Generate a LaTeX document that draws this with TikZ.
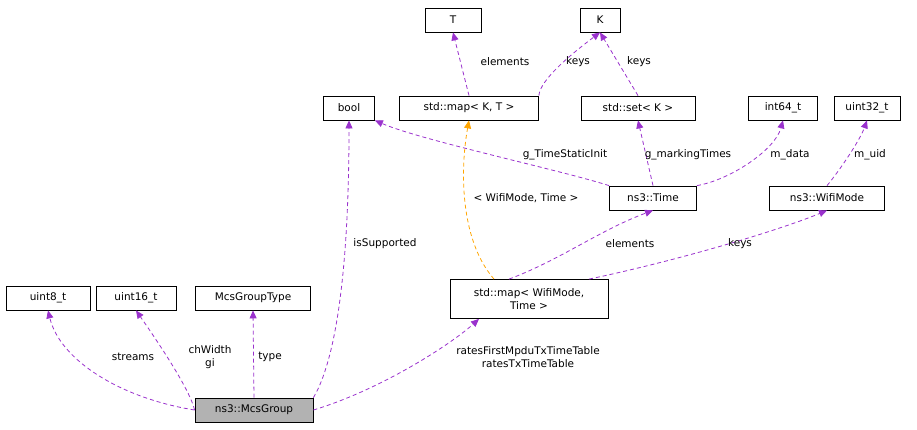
\documentclass[tikz,border=0pt]{standalone}
\usepackage{fontspec}
\setmainfont{DejaVu Sans}
\usetikzlibrary{arrows.meta}
\definecolor{ep}{HTML}{9A32CD}
\definecolor{eo}{HTML}{FFA500}
\begin{document}
\begin{tikzpicture}[x=1pt,y=-1pt,
 box/.style={draw,line width=0.8pt,inner sep=0pt,minimum height=24pt,font=\fontsize{10.5}{12.5}\selectfont,align=center},
 e/.style={draw=ep,line width=0.8pt,dash pattern=on 4pt off 3pt,-{Triangle[length=8pt,width=7pt,fill=ep]}},
 o/.style={e,draw=eo,-{Triangle[length=8pt,width=7pt,fill=eo]}},
 lbl/.style={font=\fontsize{10.5}{12.5}\selectfont,align=center,inner sep=1pt}]
\useasboundingbox (0,0) rectangle (917,429);
\node[box,fill=black!30,minimum width=118pt] (mcs) at (254,410) {ns3::McsGroup};
\node[box,minimum width=84pt] (u8) at (48,298) {uint8\_t};
\node[box,minimum width=80pt] (u16) at (136,298) {uint16\_t};
\node[box,minimum width=115pt] (mgt) at (253,298) {McsGroupType};
\node[box,minimum width=51pt] (bool) at (349,108) {bool};
\node[box,minimum width=158pt,minimum height=39pt] (mw) at (529,299) {std::map< WifiMode,\\Time >};
\node[box,minimum width=56pt] (T) at (453,20) {T};
\node[box,minimum width=40pt] (K) at (600,20) {K};
\node[box,minimum width=139pt] (mkt) at (469,108) {std::map< K, T >};
\node[box,minimum width=114pt] (set) at (638,108) {std::set< K >};
\node[box,minimum width=69pt] (i64) at (783,108) {int64\_t};
\node[box,minimum width=66pt] (u32) at (867,108) {uint32\_t};
\node[box,minimum width=87pt] (time) at (653,198) {ns3::Time};
\node[box,minimum width=115pt] (wm) at (827,198) {ns3::WifiMode};

\draw[e] (mcs.west) .. controls (120,398) and (60,360) .. (u8.south);
\draw[e] (mcs.west) .. controls (190,390) and (160,345) .. (u16.south);
\draw[e] (mcs.north) -- (mgt.south);
\draw[e] (mcs.north east) .. controls (330,370) and (349,300) .. (bool.south);
\draw[e] (mcs.east) .. controls (380,390) and (450,345) .. ([xshift=-50pt]mw.south);
\draw[e] (mkt.north) -- (T.south);
\draw[e] (mkt.north east) .. controls (540,80) and (570,55) .. (K.south);
\draw[e] (set.north) -- (K.south);
\draw[e] (time.north west) .. controls (560,170) and (420,140) .. (bool.south east);
\draw[e] (time.north) -- (set.south);
\draw[e] (time.north east) .. controls (730,180) and (775,150) .. (i64.south);
\draw[e] (wm.north) .. controls (840,170) and (860,140) .. (u32.south);
\draw[o] ([xshift=-35pt]mw.north) .. controls (460,240) and (460,170) .. (mkt.south);
\draw[e] ([xshift=-20pt]mw.north) .. controls (560,260) and (600,230) .. (time.south);
\draw[e] ([xshift=60pt]mw.north) .. controls (680,260) and (780,230) .. (wm.south);

\node[lbl] (l1) at (133,357) {streams};
\node[lbl] (l2) at (210,357) {chWidth\\gi};
\node[lbl] (l3) at (270,357) {type};
\node[lbl] (l4) at (385,244) {isSupported};
\node[lbl] (l5) at (528,357) {ratesFirstMpduTxTimeTable\\ratesTxTimeTable};
\node[lbl] (l6) at (505,62) {elements};
\node[lbl] (l7) at (578,62) {keys};
\node[lbl] (l8) at (639,62) {keys};
\node[lbl] (l9) at (565,155) {g\_TimeStaticInit};
\node[lbl] (l10) at (688,155) {g\_markingTimes};
\node[lbl] (l11) at (790,155) {m\_data};
\node[lbl] (l12) at (870,155) {m\_uid};
\node[lbl] (l13) at (526,198) {< WifiMode, Time >};
\node[lbl] (l14) at (630,244) {elements};
\node[lbl] (l15) at (740,244) {keys};
\end{tikzpicture}
\end{document}
